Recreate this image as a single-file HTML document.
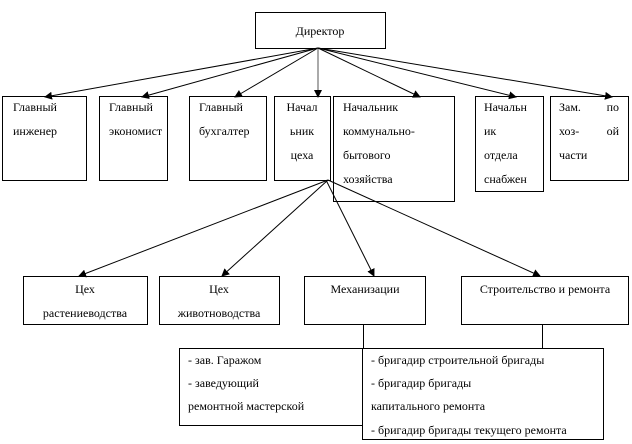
<!DOCTYPE html>
<html><head><meta charset="utf-8"><style>
html,body{margin:0;padding:0;background:#fff;}
svg{display:block;}
text{font-family:"Liberation Serif","DejaVu Serif",serif;font-size:12px;fill:#000;}
</style></head><body>
<svg width="632" height="444" viewBox="0 0 632 444" xmlns="http://www.w3.org/2000/svg">
<defs><marker id="a" markerWidth="8" markerHeight="8" refX="7" refY="4" orient="auto" markerUnits="userSpaceOnUse"><path d="M0,0 L8,4 L0,8 z" fill="#000"/></marker></defs>
<g fill="#fff" stroke="#000" stroke-width="1">
<rect x="255.5" y="12.5" width="130" height="36"/>
<rect x="2.5" y="96.5" width="84" height="84"/>
<rect x="99.5" y="96.5" width="68" height="84"/>
<rect x="189.5" y="96.5" width="77" height="84"/>
<rect x="274.5" y="96.5" width="56" height="84"/>
<rect x="333.5" y="96.5" width="121" height="105"/>
<rect x="475.5" y="96.5" width="68" height="95"/>
<rect x="550.5" y="96.5" width="78" height="84"/>
<rect x="23.5" y="276.5" width="124" height="48"/>
<rect x="159.5" y="276.5" width="120" height="48"/>
<rect x="304.5" y="276.5" width="121" height="48"/>
<rect x="461.5" y="276.5" width="167" height="48"/>
<rect x="179.5" y="348.5" width="184" height="77"/>
<rect x="362.5" y="348.5" width="241" height="91"/>
</g>
<g stroke="#000" stroke-width="1" fill="none" marker-end="url(#a)">
<line x1="318" y1="48" x2="45" y2="97"/>
<line x1="318" y1="48" x2="142" y2="97"/>
<line x1="318" y1="48" x2="235" y2="97"/>
<line x1="318" y1="48" x2="318" y2="97" stroke="#555"/>
<line x1="318" y1="48" x2="420" y2="97"/>
<line x1="318" y1="48" x2="516" y2="97"/>
<line x1="318" y1="48" x2="612" y2="97"/>
<line x1="328" y1="180" x2="79" y2="276"/>
<line x1="328" y1="180" x2="222" y2="276"/>
<line x1="326" y1="180" x2="374" y2="276"/>
<line x1="328" y1="180" x2="540" y2="276"/>
</g>
<g stroke="#000" stroke-width="1">
<line x1="363.5" y1="325" x2="363.5" y2="348"/>
<line x1="542.5" y1="325" x2="542.5" y2="348"/>
</g>
<text x="320" y="35" text-anchor="middle">Директор</text>
<text x="13" y="111">Главный</text><text x="13" y="135">инженер</text>
<text x="109" y="111">Главный</text><text x="109" y="135">экономист</text>
<text x="199" y="111">Главный</text><text x="199" y="135">бухгалтер</text>
<text x="302" y="111" text-anchor="middle">Начал</text><text x="302" y="135" text-anchor="middle">ьник</text><text x="302" y="159" text-anchor="middle">цеха</text>
<text x="343" y="111">Начальник</text><text x="343" y="135">коммунально-</text><text x="343" y="159">бытового</text><text x="343" y="183">хозяйства</text>
<text x="484" y="111">Начальн</text><text x="484" y="135">ик</text><text x="484" y="159">отдела</text><text x="484" y="183">снабжен</text>
<text x="559" y="111">Зам.</text><text x="619" y="111" text-anchor="end">по</text>
<text x="559" y="135">хоз-</text><text x="619" y="135" text-anchor="end">ой</text>
<text x="559" y="159">части</text>
<text x="85" y="293" text-anchor="middle">Цех</text><text x="85" y="317" text-anchor="middle">растениеводства</text>
<text x="219" y="293" text-anchor="middle">Цех</text><text x="219" y="317" text-anchor="middle">животноводства</text>
<text x="365" y="293" text-anchor="middle">Механизации</text>
<text x="545" y="293" text-anchor="middle">Строительство  и ремонта</text>
<text x="188" y="364">- зав. Гаражом</text>
<text x="188" y="387">- заведующий</text>
<text x="188" y="410">ремонтной мастерской</text>
<text x="371" y="364">- бригадир строительной бригады</text>
<text x="371" y="387">- бригадир бригады</text>
<text x="371" y="410">капитального ремонта</text>
<text x="371" y="434">- бригадир бригады текущего ремонта</text>
</svg>
</body></html>
